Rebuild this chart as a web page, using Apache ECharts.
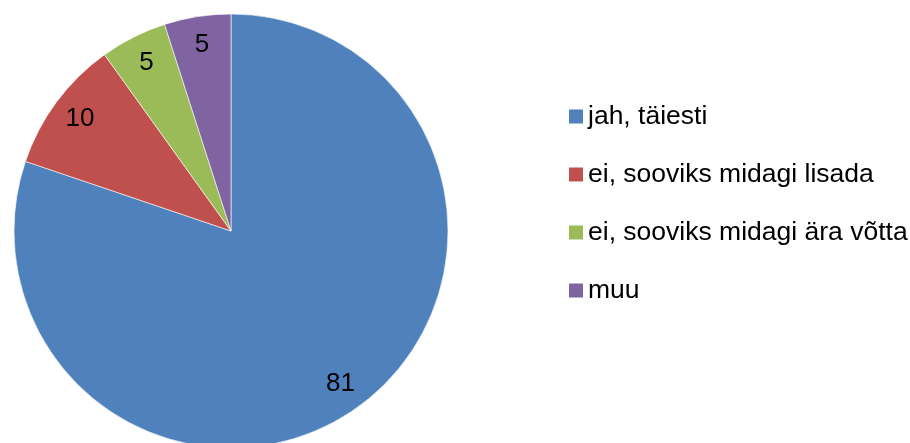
<!DOCTYPE html>
<html>
<head>
<meta charset="utf-8">
<script src="https://cdn.jsdelivr.net/npm/echarts@6/dist/echarts.min.js"></script>
<style>
html,body{margin:0;padding:0;background:#fff;}
#chart{width:910px;height:443px;}
</style>
</head>
<body>
<div id="chart"></div>
<script>
const categories = ['jah, täiesti', 'ei, sooviks midagi lisada', 'ei, sooviks midagi ära võtta', 'muu'];
const values = [81, 10, 5, 5];
const colors = ['#4F81BD', '#C0504D', '#9BBB59', '#8064A2'];

const FONT = '"Liberation Sans", Arial, sans-serif';
const data = categories.map((c, i) => ({ name: c, value: values[i], itemStyle: { color: colors[i] } }));
const labelData = categories.map((c, i) => ({ name: c, value: values[i] }));

const chart = echarts.init(document.getElementById('chart'), null, { renderer: 'canvas' });
chart.setOption({
  animation: false,
  backgroundColor: '#ffffff',
  legend: {
    orient: 'vertical',
    left: 569,
    top: 103,
    padding: 0,
    itemWidth: 14,
    itemHeight: 14,
    itemGap: 31,
    icon: 'rect',
    itemStyle: { borderWidth: 0 },
    textStyle: { fontFamily: FONT, fontSize: 26.5, color: '#000' },
    data: categories
  },
  series: [
    {
      type: 'pie',
      center: [231, 231],
      radius: [0, 217],
      startAngle: 90,
      clockwise: true,
      silent: true,
      label: { show: false },
      labelLine: { show: false },
      itemStyle: { borderColor: 'rgba(255,255,255,0.6)', borderWidth: 1 },
      data: data
    },
    {
      type: 'pie',
      center: [231, 231],
      radius: [153, 217],
      startAngle: 90,
      clockwise: true,
      silent: true,
      itemStyle: { color: 'rgba(0,0,0,0)', borderWidth: 0 },
      label: {
        show: true,
        position: 'inside',
        formatter: '{c}',
        fontFamily: FONT,
        fontSize: 26,
        color: '#000'
      },
      labelLine: { show: false },
      data: labelData
    }
  ]
});
</script>
</body>
</html>
